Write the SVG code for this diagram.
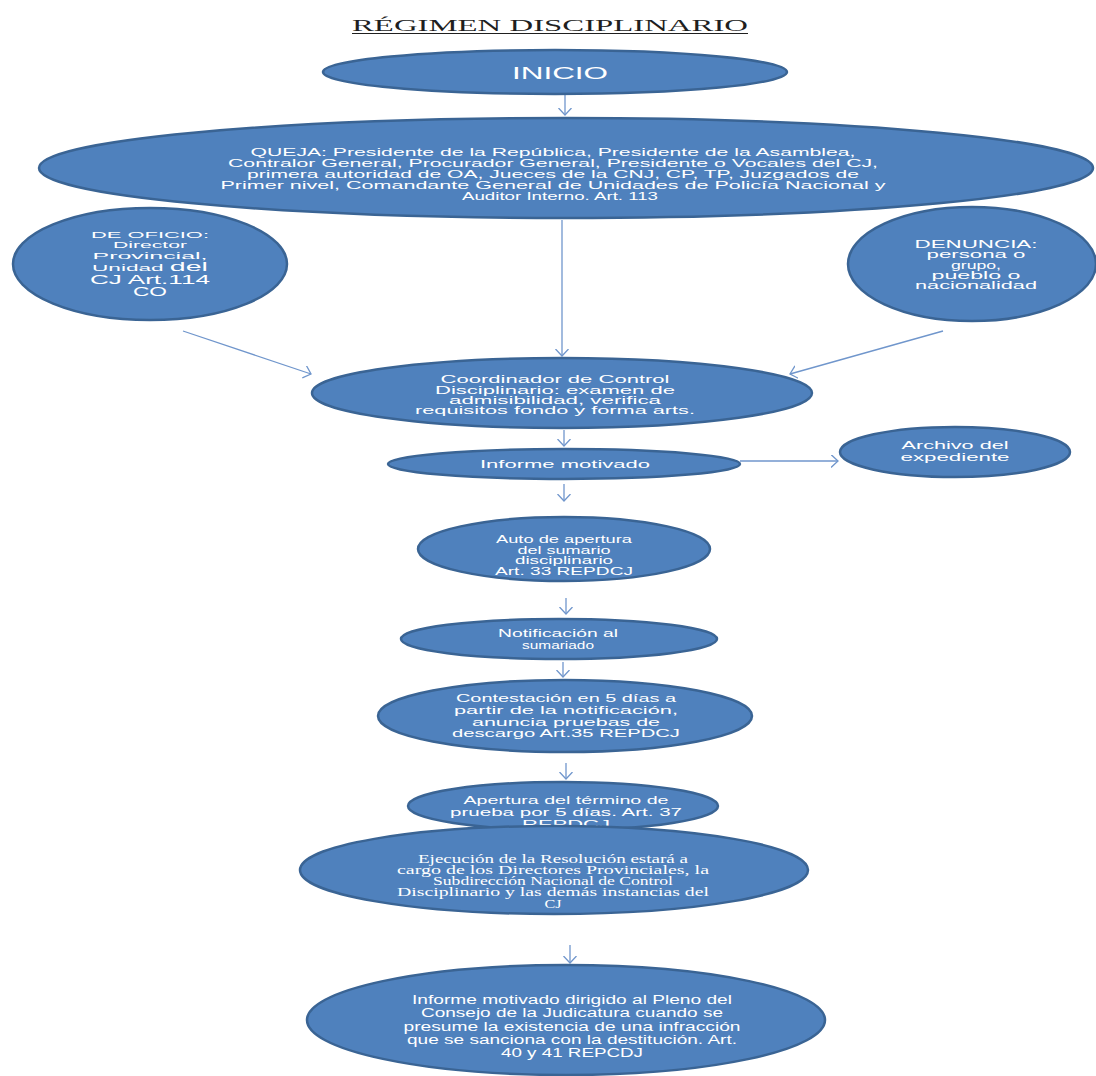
<svg xmlns="http://www.w3.org/2000/svg" width="1096" height="1076" viewBox="0 0 1096 1076">
<defs>
<style>
.n{fill:#4f81bd;stroke:#3a6494;stroke-width:2.5}
.t{font-family:"Liberation Sans",Arial,sans-serif;fill:#fff;text-anchor:middle}
.s{font-family:"Liberation Serif","Times New Roman",serif;fill:#fff;text-anchor:middle}
.c{stroke:#7096cc;stroke-width:1.3;fill:none;marker-end:url(#arr)}
</style>
<marker id="arr" markerUnits="userSpaceOnUse" markerWidth="16" markerHeight="16" refX="7" refY="6.5" orient="auto">
<path d="M0,0 L7,6.5 L0,13" fill="none" stroke="#7096cc" stroke-width="1.3"/>
</marker>
</defs>
<rect width="1096" height="1076" fill="#fff"/>
<g id="title">
<text x="550" y="30.5" font-family="Liberation Serif,'Times New Roman',serif" font-size="17" fill="#1f1f1f" text-anchor="middle" textLength="396" lengthAdjust="spacingAndGlyphs">RÉGIMEN DISCIPLINARIO</text>
<line x1="352" y1="33.5" x2="748" y2="33.5" stroke="#1f1f1f" stroke-width="1.2"/>
</g>
<g id="connectors">
<path class="c" d="M565,95 L565,115"/>
<path class="c" d="M562,220 L562,356"/>
<path class="c" d="M183,331 L311,374"/>
<path class="c" d="M943,331 L790,374"/>
<path class="c" d="M564,430 L564,446"/>
<path class="c" d="M740,461 L838,461"/>
<path class="c" d="M564,484 L564,501"/>
<path class="c" d="M566,598 L566,614"/>
<path class="c" d="M563,662 L563,677"/>
<path class="c" d="M566,763 L566,779"/>
<path class="c" d="M570,945 L570,963"/>
</g>
<g id="inicio">
<ellipse class="n" cx="555" cy="72" rx="232" ry="22"/>
<text class="t" x="560" y="79" font-size="16.5" textLength="96" lengthAdjust="spacingAndGlyphs">INICIO</text>
</g>
<g id="queja">
<ellipse class="n" cx="566" cy="168" rx="527" ry="50"/>
<g class="t" font-size="10.5">
<text x="553" y="156" textLength="605" lengthAdjust="spacingAndGlyphs">QUEJA: Presidente de la República, Presidente de la Asamblea,</text>
<text x="553" y="167" textLength="650" lengthAdjust="spacingAndGlyphs">Contralor General, Procurador General, Presidente o Vocales del CJ,</text>
<text x="553" y="178" textLength="612" lengthAdjust="spacingAndGlyphs">primera autoridad de OA, Jueces de la CNJ, CP, TP, Juzgados de</text>
<text x="553" y="189" textLength="665" lengthAdjust="spacingAndGlyphs">Primer nivel, Comandante General de Unidades de Policía Nacional y</text>
<text x="560" y="200" textLength="196" lengthAdjust="spacingAndGlyphs">Auditor Interno. Art. 113</text>
</g>
</g>
<g id="deoficio">
<ellipse class="n" cx="150" cy="264" rx="137" ry="56"/>
<g class="t">
<text x="150" y="237.5" font-size="9.5" textLength="118" lengthAdjust="spacingAndGlyphs">DE OFICIO:</text>
<text x="150" y="248" font-size="9.5" textLength="74" lengthAdjust="spacingAndGlyphs">Director</text>
<text x="150" y="259" font-size="9.5" textLength="115" lengthAdjust="spacingAndGlyphs">Provincial,</text>
<text x="150" y="271" font-size="9.5" textLength="116" lengthAdjust="spacingAndGlyphs">Unidad <tspan font-size="12">del</tspan></text>
<text x="150" y="283.5" font-size="12" textLength="120" lengthAdjust="spacingAndGlyphs">CJ Art.114</text>
<text x="150" y="296" font-size="12" textLength="34" lengthAdjust="spacingAndGlyphs">CO</text>
</g>
</g>
<g id="denuncia">
<ellipse class="n" cx="972" cy="264" rx="124" ry="57"/>
<g class="t" font-size="10">
<text x="976" y="247.5" textLength="123" lengthAdjust="spacingAndGlyphs">DENUNCIA:</text>
<text x="976" y="258" textLength="99" lengthAdjust="spacingAndGlyphs">persona o</text>
<text x="976" y="268.5" textLength="50" lengthAdjust="spacingAndGlyphs">grupo,</text>
<text x="976" y="279" textLength="89" lengthAdjust="spacingAndGlyphs">pueblo o</text>
<text x="976" y="289" textLength="122" lengthAdjust="spacingAndGlyphs">nacionalidad</text>
</g>
</g>
<g id="coordinador">
<ellipse class="n" cx="562" cy="393" rx="250" ry="35"/>
<g class="t" font-size="10.5">
<text x="555" y="383" textLength="229" lengthAdjust="spacingAndGlyphs">Coordinador de Control</text>
<text x="555" y="394" textLength="240" lengthAdjust="spacingAndGlyphs">Disciplinario: examen de</text>
<text x="555" y="404" textLength="212" lengthAdjust="spacingAndGlyphs">admisibilidad, verifica</text>
<text x="555" y="414" textLength="280" lengthAdjust="spacingAndGlyphs">requisitos fondo y forma arts.</text>
</g>
</g>
<g id="informe">
<ellipse class="n" cx="564" cy="464" rx="176" ry="15"/>
<text class="t" x="565" y="467.5" font-size="10.5" textLength="170" lengthAdjust="spacingAndGlyphs">Informe motivado</text>
</g>
<g id="archivo">
<ellipse class="n" cx="955" cy="452" rx="115" ry="25"/>
<g class="t" font-size="10">
<text x="955" y="449" textLength="107" lengthAdjust="spacingAndGlyphs">Archivo del</text>
<text x="955" y="461" textLength="109" lengthAdjust="spacingAndGlyphs">expediente</text>
</g>
</g>
<g id="auto">
<ellipse class="n" cx="564" cy="549" rx="146" ry="32"/>
<g class="t" font-size="11.5">
<text x="564" y="543" textLength="136" lengthAdjust="spacingAndGlyphs">Auto de apertura</text>
<text x="564" y="553.5" textLength="93" lengthAdjust="spacingAndGlyphs">del sumario</text>
<text x="564" y="564" textLength="98" lengthAdjust="spacingAndGlyphs">disciplinario</text>
<text x="564" y="574.5" textLength="138" lengthAdjust="spacingAndGlyphs">Art. 33 REPDCJ</text>
</g>
</g>
<g id="notificacion">
<ellipse class="n" cx="559" cy="639" rx="158" ry="20"/>
<g class="t" font-size="11">
<text x="558" y="637" textLength="120" lengthAdjust="spacingAndGlyphs">Notificación al</text>
<text x="558" y="649" textLength="72" lengthAdjust="spacingAndGlyphs">sumariado</text>
</g>
</g>
<g id="contestacion">
<ellipse class="n" cx="565" cy="716" rx="187" ry="36"/>
<g class="t" font-size="11">
<text x="566" y="702" textLength="220" lengthAdjust="spacingAndGlyphs">Contestación en 5 días a</text>
<text x="566" y="714" textLength="224" lengthAdjust="spacingAndGlyphs">partir de la notificación,</text>
<text x="566" y="726" textLength="188" lengthAdjust="spacingAndGlyphs">anuncia pruebas de</text>
<text x="566" y="737" textLength="228" lengthAdjust="spacingAndGlyphs">descargo Art.35 REPDCJ</text>
</g>
</g>
<g id="apertura">
<ellipse class="n" cx="563" cy="806" rx="155" ry="24"/>
<g class="t" font-size="11.5">
<text x="566" y="804" textLength="205" lengthAdjust="spacingAndGlyphs">Apertura del término de</text>
<text x="566" y="816" textLength="232" lengthAdjust="spacingAndGlyphs">prueba por 5 días. Art. 37</text>
<text x="566" y="828" textLength="88" lengthAdjust="spacingAndGlyphs">REPDCJ</text>
</g>
</g>
<g id="ejecucion">
<ellipse class="n" cx="554" cy="870" rx="254" ry="44"/>
<g class="s" font-size="11.5">
<text x="553" y="863" textLength="270" lengthAdjust="spacingAndGlyphs">Ejecución de la Resolución estará a</text>
<text x="553" y="874" textLength="312" lengthAdjust="spacingAndGlyphs">cargo de los Directores Provinciales, la</text>
<text x="553" y="885" textLength="240" lengthAdjust="spacingAndGlyphs">Subdirección Nacional de Control</text>
<text x="553" y="896" textLength="312" lengthAdjust="spacingAndGlyphs">Disciplinario y las demás instancias del</text>
<text x="553" y="907.5" font-size="12.5" textLength="17" lengthAdjust="spacingAndGlyphs">CJ</text>
</g>
</g>
<g id="final">
<ellipse class="n" cx="566" cy="1020" rx="259" ry="55"/>
<g class="t" font-size="12.5">
<text x="572" y="1004" textLength="320" lengthAdjust="spacingAndGlyphs">Informe motivado dirigido al Pleno del</text>
<text x="572" y="1017" textLength="302" lengthAdjust="spacingAndGlyphs">Consejo de la Judicatura cuando se</text>
<text x="572" y="1031" textLength="337" lengthAdjust="spacingAndGlyphs">presume la existencia de una infracción</text>
<text x="572" y="1044" textLength="330" lengthAdjust="spacingAndGlyphs">que se sanciona con la destitución. Art.</text>
<text x="572" y="1057" textLength="142" lengthAdjust="spacingAndGlyphs">40 y 41 REPCDJ</text>
</g>
</g>
</svg>
